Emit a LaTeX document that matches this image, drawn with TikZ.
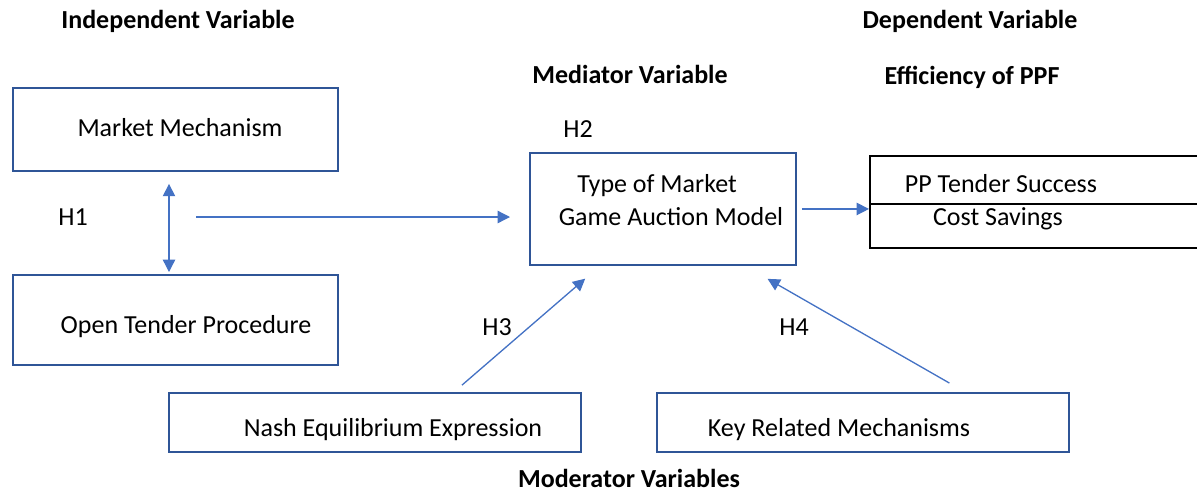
\documentclass[tikz,border=0pt]{standalone}
\usepackage{fontspec}
\setmainfont{Carlito}
\usetikzlibrary{arrows.meta}
\definecolor{boxblue}{HTML}{2F5597}
\definecolor{arrowblue}{HTML}{4472C4}

\begin{document}
\begin{tikzpicture}[x=0.02cm,y=-0.02cm,font=\fontsize{14.8}{17.8}\selectfont,
	varbox/.style={draw=boxblue,line width=1.1pt,anchor=north west,inner sep=0pt},
	boxtext/.style={anchor=base,inner sep=0pt},
	heading/.style={anchor=base,inner sep=0pt,font=\fontsize{14.8}{17.8}\selectfont\bfseries},
	link/.style={draw=arrowblue,line width=0.75pt,-{Triangle[length=7pt,width=7pt]}}]
	\clip (0,0) rectangle (1197,491);
	\node[heading] (indep) at (178,28) {Independent Variable};
	\node[heading] (dep) at (970,28) {Dependent Variable};
	\node[heading] (mediator) at (630,83) {Mediator Variable};
	\node[heading] (ppfhead) at (972,84) {Efficiency of PPF};
	\node[heading] (moderator) at (629,487) {Moderator Variables};
	\node[boxtext] (h1) at (73,225) {H1};
	\node[boxtext] (h2) at (578,137) {H2};
	\node[boxtext] (h3) at (497,335) {H3};
	\node[boxtext] (h4) at (794,335) {H4};

	\node[varbox,minimum width=6.5cm,minimum height=1.66cm] (market) at (12,87) {};
	\node[boxtext] (markettext) at (180,136) {Market Mechanism};
	\node[varbox,minimum width=6.5cm,minimum height=1.8cm] (tender) at (12,274) {};
	\node[boxtext] (tendertext) at (186,333) {Open Tender Procedure};
	\node[varbox,minimum width=5.32cm,minimum height=2.24cm] (game) at (529,152) {};
	\node[boxtext] (gametextA) at (657,192) {Type of Market};
	\node[boxtext] (gametextB) at (671,225) {Game Auction Model};
	\node[varbox,draw=black,minimum width=6.9cm,minimum height=1.84cm] (ppf) at (869,155) {};
	\node[boxtext] (ppftextA) at (1001,192) {PP Tender Success};
	\node[boxtext] (ppftextB) at (998,225) {Cost Savings};
	\node[varbox,minimum width=8.24cm,minimum height=1.18cm] (nash) at (168,392) {};
	\node[boxtext] (nashtext) at (393,436) {Nash Equilibrium Expression};
	\node[varbox,minimum width=8.24cm,minimum height=1.18cm] (key) at (656,392) {};
	\node[boxtext] (keytext) at (839,436) {Key Related Mechanisms};

	\draw[line width=1.1pt] ([yshift=-0.04cm]ppf.west) -- ([yshift=-0.04cm]ppf.east);

	\coordinate (h1x) at (169,0);
	\coordinate (h2tail) at (196,217);
	\draw[link,{Triangle[length=7pt,width=7pt]}-{Triangle[length=7pt,width=7pt]},shorten <=0.24cm,shorten >=0.04cm]
		(market.south -| h1x) -- (tender.north -| h1x);
	\draw[link,shorten >=0.38cm] (h2tail) -- (game.west |- h2tail);
	\draw[link,shorten <=0.1cm] (game.east) -- (ppf.west |- game.east);
	\draw[link,shorten <=0.21cm,shorten >=0.39cm] (nash.north -| 454,0) -- (game.south -| 600,0);
	\draw[link,shorten <=0.36cm,shorten >=0.52cm] (key.north -| 965,0) -- (game.south -| 745,0);
\end{tikzpicture}
\end{document}
